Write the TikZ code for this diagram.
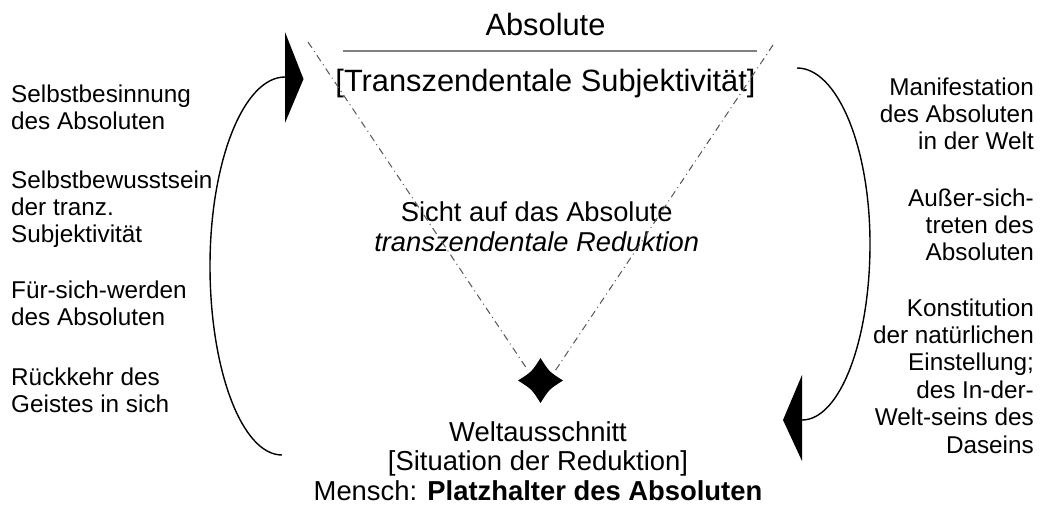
\documentclass[tikz,border=0pt]{standalone}
\usepackage{fontspec}
\setmainfont{Liberation Sans}
\definecolor{txt}{HTML}{000000}
\definecolor{rulegray}{HTML}{808080}
\definecolor{dashgray}{HTML}{555555}
\begin{document}
\begin{tikzpicture}[x=1pt,y=-1pt,
  side/.style={inner sep=0pt, text=txt, font=\fontsize{24.3}{27.4}\selectfont},
  big/.style={inner sep=0pt, text=txt, font=\fontsize{30.8}{34}\selectfont},
  mid/.style={inner sep=0pt, text=txt, font=\fontsize{27.3}{30}\selectfont},
  low/.style={inner sep=0pt, text=txt, font=\fontsize{27.4}{29.2}\selectfont},
  dashdot/.style={draw=dashgray, line width=1pt, dash pattern=on 7pt off 4pt on 1pt off 4pt},
  loopline/.style={draw=black, line width=1.4pt},
  headfill/.style={fill=black}]
\useasboundingbox (0,0) rectangle (1040,506);

% top texts
\node[big, anchor=base] (abs) at (545.5,35) {Absolute};
\node[big, anchor=base] (tsub) at (545.5,91) {[Transzendentale Subjektivität]};
\coordinate (rl) at (343,50.5);
\coordinate (rr) at (757,50.5);
\draw[rulegray, line width=2pt] (rl) -- (rr);

% centre
\node[mid, anchor=base] (sicht) at (536.7,221.7) {\begin{tabular}[t]{@{}c@{}}Sicht auf das Absolute\\\itshape transzendentale Reduktion\end{tabular}};

% bottom
\node[low, anchor=base] (welt) at (538,441.7) {\begin{tabular}[t]{@{}c@{}}Weltausschnitt\\{}[Situation der Reduktion]\\Mensch: \textbf{Platzhalter des Absoluten}\end{tabular}};

% left column
\node[side, anchor=base west] (l1) at (11,102) {\begin{tabular}[t]{@{}l@{}}Selbstbesinnung\\des Absoluten\end{tabular}};
\node[side, anchor=base west] (l2) at (11,188) {\begin{tabular}[t]{@{}l@{}}Selbstbewusstsein\\der tranz.\\Subjektivität\end{tabular}};
\node[side, anchor=base west] (l3) at (11,298.3) {\begin{tabular}[t]{@{}l@{}}Für-sich-werden\\des Absoluten\end{tabular}};
\node[side, anchor=base west] (l4) at (11,385) {\begin{tabular}[t]{@{}l@{}}Rückkehr des\\Geistes in sich\end{tabular}};

% right column
\node[side, anchor=base east] (r1) at (1034,95) {\begin{tabular}[t]{@{}r@{}}Manifestation\\des Absoluten\\in der Welt\end{tabular}};
\node[side, anchor=base east] (r2) at (1034,206) {\begin{tabular}[t]{@{}r@{}}Außer-sich-\\treten des\\Absoluten\end{tabular}};
\node[side, anchor=base east] (r3) at (1034,316) {\begin{tabular}[t]{@{}r@{}}Konstitution\\der natürlichen\\Einstellung;\\des In-der-\\Welt-seins des\\Daseins\end{tabular}};

% star
\coordinate (star) at (540.5,380.5);
\fill[black] ([shift={(0,-22.5)}]star)
  .. controls ([shift={(8.7,-8.7)}]star) .. ([shift={(22.5,0)}]star)
  .. controls ([shift={(8.7,8.7)}]star) .. ([shift={(0,22.5)}]star)
  .. controls ([shift={(-8.7,8.7)}]star) .. ([shift={(-22.5,0)}]star)
  .. controls ([shift={(-8.7,-8.7)}]star) .. cycle;

% triangle sides
\coordinate (tl) at (308,42);
\coordinate (tr) at (773,45);
\coordinate (sl) at (527,369);
\coordinate (sr) at (555,371);
\draw[dashdot] (tl) -- (sl);
\draw[dashdot] (tr) -- (sr);

% left return arrow
\coordinate (lbot) at (282,455);
\coordinate (lmid) at (210,266);
\coordinate (lhead) at (285,77);
\draw[loopline] (lbot) .. controls (242,455) and (210,370) .. (lmid)
  .. controls (210,161.6) and (243.6,77) .. (lhead);
\fill[headfill] (285,32) -- (303.5,79) -- (285,123) -- cycle;

% right arrow
\coordinate (rtop) at (797,68);
\coordinate (rmid) at (870,244);
\coordinate (rhead) at (802,420);
\draw[loopline] (rtop) .. controls (837.3,68) and (870,146.8) .. (rmid)
  .. controls (870,341.2) and (839.6,420) .. (rhead);
\fill[headfill] (802,375) -- (783,420) -- (802,461) -- cycle;
\end{tikzpicture}
\end{document}
